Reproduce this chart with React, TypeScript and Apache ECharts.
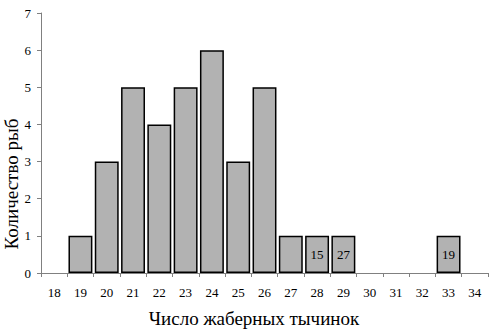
import React, { useEffect, useRef } from "react";
import * as echarts from "echarts";

const categories = ["18", "19", "20", "21", "22", "23", "24", "25", "26", "27", "28", "29", "30", "31", "32", "33", "34"];
const counts = [0, 1, 3, 5, 4, 5, 6, 3, 5, 1, 1, 1, 0, 0, 0, 1, 0];
const barNotes = ["", "", "", "", "", "", "", "", "", "", "15", "27", "", "", "", "19", ""];
const yTitle = "Количество рыб";
const xTitle = "Число жаберных тычинок";

const FONT = "'Liberation Serif', 'Times New Roman', 'DejaVu Serif', serif";

export default function App() {
  const ref = useRef<HTMLDivElement>(null);
  useEffect(() => {
    if (!ref.current) return;
    const chart = echarts.init(ref.current, null, { renderer: "svg" });
    chart.setOption({
      animation: false,
      backgroundColor: "#ffffff",
      textStyle: { fontFamily: FONT },
      grid: { left: 41, right: 3, top: 13, bottom: 56, containLabel: false },
      xAxis: {
        type: "category",
        data: categories,
        boundaryGap: true,
        axisLine: { show: true, lineStyle: { color: "#808080", width: 1 } },
        axisTick: { show: true, length: 4, lineStyle: { color: "#808080" } },
        axisLabel: { color: "#000", fontFamily: FONT, fontSize: 13, margin: 13 },
        splitLine: { show: false },
      },
      yAxis: {
        type: "value",
        min: 0,
        max: 7,
        interval: 1,
        axisLine: { show: true, lineStyle: { color: "#808080", width: 1 } },
        axisTick: { show: true, length: 4, lineStyle: { color: "#808080" } },
        axisLabel: { color: "#000", fontFamily: FONT, fontSize: 13, margin: 10 },
        splitLine: { show: false },
      },
      series: [
        {
          type: "bar",
          data: counts.map((v, i) => ({
            value: v,
            itemStyle: v === 0 ? { borderWidth: 0, color: "transparent" } : undefined,
            label: {
              show: barNotes[i] !== "",
              formatter: barNotes[i],
            },
          })),
          barCategoryGap: "9%",
          itemStyle: { color: "#b2b2b2", borderColor: "#000", borderWidth: 1.5 },
          label: {
            position: "inside",
            color: "#000",
            fontFamily: FONT,
            fontSize: 13,
          },
        },
      ],
      graphic: [
        {
          type: "text",
          x: 11,
          y: 184,
          rotation: Math.PI / 2,
          style: {
            text: yTitle,
            fontFamily: FONT,
            fontSize: 19,
            fill: "#000",
            align: "center",
            verticalAlign: "middle",
          },
        },
        {
          type: "text",
          x: 254,
          y: 318,
          style: {
            text: xTitle,
            fontFamily: FONT,
            fontSize: 19,
            fill: "#000",
            align: "center",
            verticalAlign: "middle",
          },
        },
      ],
    });
    return () => chart.dispose();
  }, []);
  return <div ref={ref} style={{ width: 491, height: 329, position: "absolute", left: 0, top: 0 }} />;
}
